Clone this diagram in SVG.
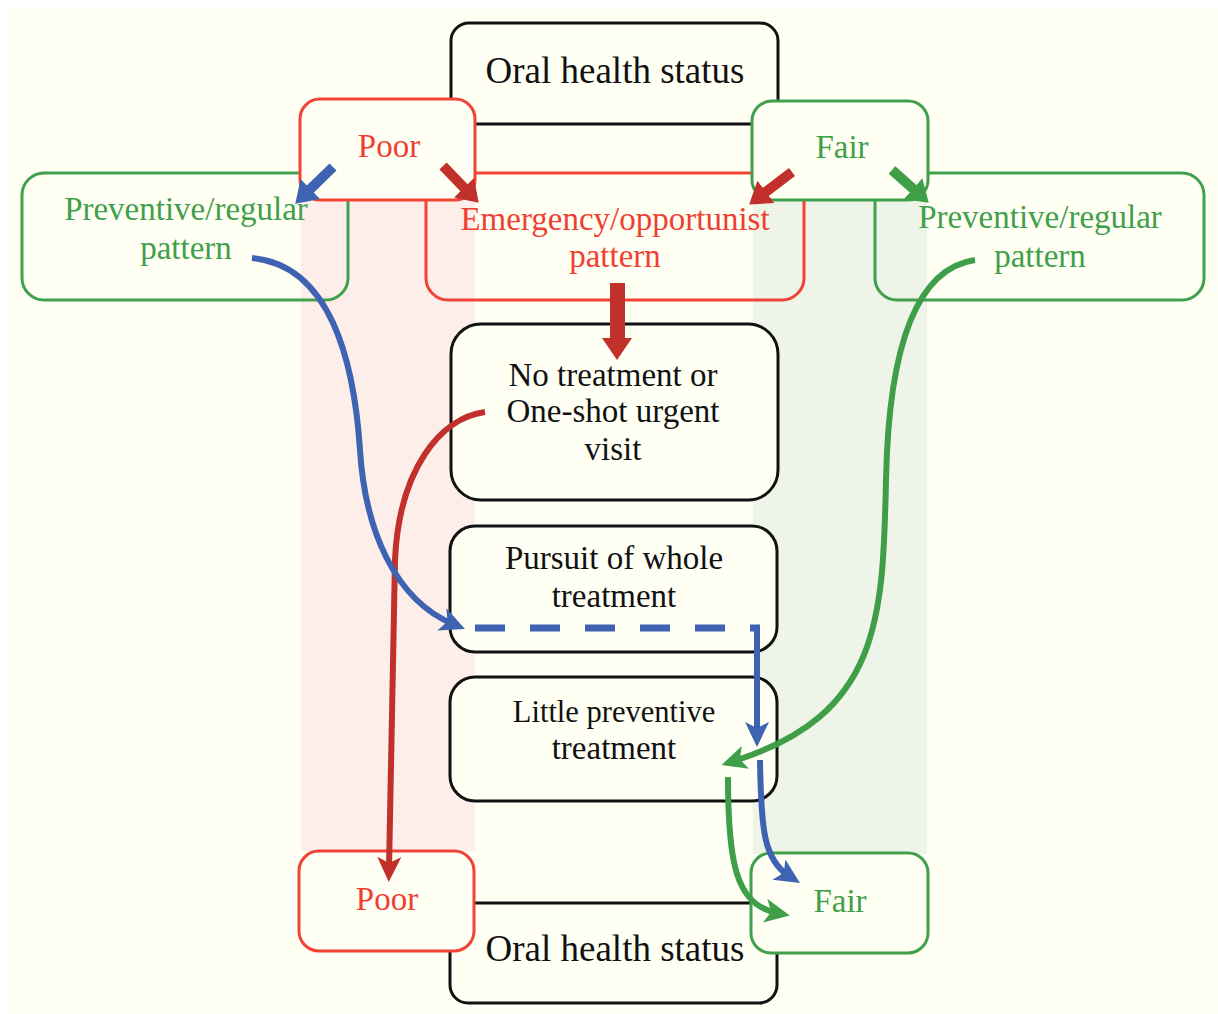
<svg xmlns="http://www.w3.org/2000/svg" width="1218" height="1014" viewBox="0 0 1218 1014">
<defs>
<style>
.t{font-family:"Liberation Serif","DejaVu Serif",serif;font-size:33px;text-anchor:middle}
.big{font-size:37px}
.k{fill:#111}
.r{fill:#ef3f32}
.g{fill:#3f9f4a}
.bk{fill:#fffff4;stroke:#111;stroke-width:3}
.br{fill:none;stroke:#ef4436;stroke-width:3}
.brf{fill:#fffff4;stroke:#ef4436;stroke-width:3}
.bg{fill:none;stroke:#40a04b;stroke-width:3}
.bgf{fill:#fffff4;stroke:#40a04b;stroke-width:3}
.c{fill:none;stroke-width:6}
.s{fill:none;stroke-width:10}
</style>
<marker id="mb" markerUnits="userSpaceOnUse" markerWidth="25" markerHeight="24" refX="12" refY="12" orient="auto"><path d="M0,0 L25,12 L0,24 L6,12 Z" fill="#3d63b2"/></marker>
<marker id="mr" markerUnits="userSpaceOnUse" markerWidth="25" markerHeight="24" refX="12" refY="12" orient="auto"><path d="M0,0 L25,12 L0,24 L6,12 Z" fill="#c1302a"/></marker>
<marker id="mg" markerUnits="userSpaceOnUse" markerWidth="25" markerHeight="24" refX="12" refY="12" orient="auto"><path d="M0,0 L25,12 L0,24 L6,12 Z" fill="#3f9e48"/></marker>
<marker id="sb" markerUnits="userSpaceOnUse" markerWidth="21" markerHeight="28" refX="8" refY="14" orient="auto"><path d="M0,0 L21,14 L0,28 Z" fill="#3d63b2"/></marker>
<marker id="sr" markerUnits="userSpaceOnUse" markerWidth="21" markerHeight="28" refX="8" refY="14" orient="auto"><path d="M0,0 L21,14 L0,28 Z" fill="#c1302a"/></marker>
<marker id="sg" markerUnits="userSpaceOnUse" markerWidth="21" markerHeight="28" refX="8" refY="14" orient="auto"><path d="M0,0 L21,14 L0,28 Z" fill="#3f9e48"/></marker>
</defs>
<rect x="0" y="0" width="1218" height="1014" fill="#ffffff"/>
<rect x="9" y="7" width="1209" height="1007" fill="#fffff4"/>
<g id="bands">
<rect x="301" y="200" width="174" height="651" fill="#fdeeea"/>
<rect x="753" y="200" width="174" height="654" fill="#eff4e8"/>
</g>
<g id="oral-top"><rect class="bk" x="451" y="23" width="327" height="101" rx="18"/><text class="t big k" x="615" y="83">Oral health status</text></g>
<g id="emergency"><rect class="br" x="426" y="173" width="378" height="127" rx="22"/><text class="t r" x="615" y="230">Emergency/opportunist</text><text class="t r" x="615" y="267">pattern</text></g>
<g id="prev-left"><rect class="bg" x="22" y="173" width="326" height="127" rx="22"/><text class="t g" x="186" y="220">Preventive/regular</text><text class="t g" x="186" y="259">pattern</text></g>
<g id="prev-right"><rect class="bg" x="875" y="173" width="329" height="127" rx="22"/><text class="t g" x="1040" y="228">Preventive/regular</text><text class="t g" x="1040" y="267">pattern</text></g>
<g id="poor-top"><rect class="brf" x="300" y="99" width="175" height="101" rx="20"/><text class="t r" x="389" y="157">Poor</text></g>
<g id="fair-top"><rect class="bgf" x="752" y="101" width="176" height="99" rx="20"/><text class="t g" x="842" y="158">Fair</text></g>
<g id="no-treatment"><rect class="bk" x="451" y="324" width="327" height="176" rx="30"/><text class="t k" x="613" y="386">No treatment or</text><text class="t k" x="613" y="422">One-shot urgent</text><text class="t k" x="613" y="460">visit</text></g>
<g id="pursuit"><rect class="bk" x="450" y="526" width="327" height="126" rx="25"/><text class="t k" x="614" y="569">Pursuit of whole</text><text class="t k" x="614" y="607">treatment</text></g>
<g id="little"><rect class="bk" x="450" y="677" width="327" height="124" rx="25"/><text class="t k" x="614" y="722" style="font-size:30.5px">Little preventive</text><text class="t k" x="614" y="759">treatment</text></g>
<g id="oral-bottom"><rect class="bk" x="450" y="903" width="327" height="100" rx="18"/><text class="t big k" x="615" y="961">Oral health status</text></g>
<g id="poor-bottom"><rect class="brf" x="299" y="851" width="175" height="100" rx="20"/><text class="t r" x="387" y="910">Poor</text></g>
<g id="fair-bottom"><rect class="bgf" x="751" y="853" width="177" height="100" rx="20"/><text class="t g" x="840" y="912">Fair</text></g>
<g id="connectors">
<path class="s" stroke="#3d63b2" d="M333,167 L304.6,194.6" marker-end="url(#sb)"/>
<path class="s" stroke="#c1302a" d="M443,166 L469.6,193.4" marker-end="url(#sr)"/>
<path class="s" stroke="#c1302a" d="M792,172 L759.5,196.7" marker-end="url(#sr)"/>
<path class="s" stroke="#3f9e48" d="M892,170 L919,194" marker-end="url(#sg)"/>
<path fill="#c1302a" d="M610,283 H625 V338 H632 L617,360 L602,338 H610 Z"/>
<path class="c" stroke="#c1302a" d="M485,412 C440,418 399,470 395,560 L389,869" marker-end="url(#mr)"/>
<path class="c" stroke="#3d63b2" d="M252,258 C330,265 354,360 360,450 C365,530 395,600 453,624" marker-end="url(#mb)"/>
<path fill="none" stroke="#3d63b2" stroke-width="7" stroke-dasharray="30 25" d="M475,628 L760,628"/>
<path class="c" stroke="#3d63b2" d="M757,625 L757,734" marker-end="url(#mb)"/>
<path class="c" stroke="#3d63b2" d="M760,760 C761,830 764,860 789,876" marker-end="url(#mb)"/>
<path class="c" stroke="#3f9e48" stroke-width="7" d="M975,260 C905,270 888,380 886,480 C883,620 880,715 734,761" marker-end="url(#mg)"/>
<path class="c" stroke="#3f9e48" d="M728,777 C728,860 735,905 777,913" marker-end="url(#mg)"/>
</g>
</svg>
